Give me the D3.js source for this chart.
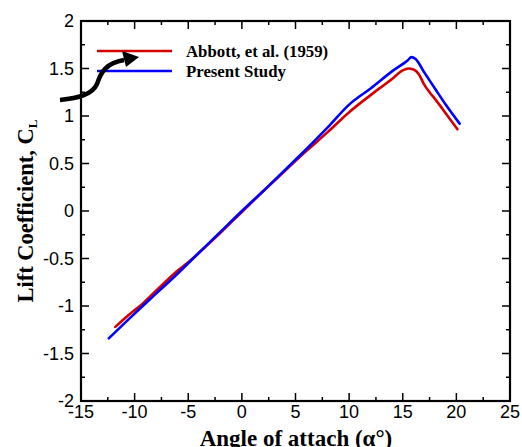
<!DOCTYPE html>
<html>
<head>
<meta charset="utf-8">
<script src="https://cdn.jsdelivr.net/npm/d3@7"></script>
<style>
  body { margin: 0; background: #fff; }
  svg { display: block; }
</style>
</head>
<body>
<script>
// values
const abbottAlpha = [-11.8, -10.5, -9.2, -8, -6, -5, -4, -2, 0, 2, 4, 6, 8, 10, 12, 14, 15, 15.5, 16, 16.5, 17, 17.5, 18, 19, 20.1]
const abbottCL    = [-1.22, -1.09, -0.97, -0.84, -0.63, -0.54, -0.44, -0.23, -0.01, 0.21, 0.42, 0.63, 0.83, 1.04, 1.22, 1.39, 1.48, 1.50, 1.49, 1.44, 1.33, 1.25, 1.18, 1.03, 0.86]
const presentAlpha = [-12.4, -10, -8, -6, -4, -2, 0, 2, 4, 6, 8, 10, 12, 14, 15.5, 15.8, 16.2, 17, 18, 19, 20.3]
const presentCL    = [-1.34, -1.08, -0.87, -0.66, -0.44, -0.22, 0.0, 0.21, 0.43, 0.65, 0.88, 1.12, 1.29, 1.47, 1.59, 1.62, 1.60, 1.46, 1.29, 1.12, 0.92]
const xTicks = [-15, -10, -5, 0, 5, 10, 15, 20, 25]
const yTicks = [-2, -1.5, -1, -0.5, 0, 0.5, 1, 1.5, 2]
const seriesNames = ["Abbott, et al. (1959)", "Present Study"]
const seriesColors = ["#d40000", "#0000ff"]

let w = 522, h = 447
let pLeft = 81, pRight = 510, pTop = 21, pBottom = 401

let svg = d3.select("body").append("svg")
    .attr("width", w)
    .attr("height", h)

let x = d3.scaleLinear([-15, 25], [pLeft, pRight])
let y = d3.scaleLinear([-2, 2], [pBottom, pTop])

// minor ticks every half step
let xMinor = d3.range(-15, 25.01, 2.5).filter(v => !xTicks.includes(v))
let yMinor = d3.range(-2, 2.01, 0.25).filter(v => !yTicks.includes(v))

let ticks = svg.append("g").attr("stroke", "#000").attr("stroke-width", 1.5)
function tickLines(vals, len, horiz) {
    vals.forEach(v => {
        if (horiz) {
            ticks.append("line").attr("x1", x(v)).attr("x2", x(v)).attr("y1", pBottom).attr("y2", pBottom - len)
            ticks.append("line").attr("x1", x(v)).attr("x2", x(v)).attr("y1", pTop).attr("y2", pTop + len)
        } else {
            ticks.append("line").attr("y1", y(v)).attr("y2", y(v)).attr("x1", pLeft).attr("x2", pLeft + len)
            ticks.append("line").attr("y1", y(v)).attr("y2", y(v)).attr("x1", pRight).attr("x2", pRight - len)
        }
    })
}
tickLines(xTicks, 8, true)
tickLines(xMinor, 4, true)
tickLines(yTicks, 8, false)
tickLines(yMinor, 4, false)

// tick labels
svg.append("g").selectAll("text")
    .data(xTicks)
    .enter()
    .append("text")
        .attr("x", d => x(d))
        .attr("y", 418)
        .attr("text-anchor", "middle")
        .style("font", "18px 'Liberation Sans', Arial, sans-serif")
        .text(d => d)

svg.append("g").selectAll("text")
    .data(yTicks)
    .enter()
    .append("text")
        .attr("x", 74)
        .attr("y", d => y(d))
        .attr("dy", "0.36em")
        .attr("text-anchor", "end")
        .style("font", "18px 'Liberation Sans', Arial, sans-serif")
        .text(d => d)

// data lines
let line = d3.line().x(d => x(d[0])).y(d => y(d[1])).curve(d3.curveMonotoneX)
let series = [
    d3.zip(abbottAlpha, abbottCL),
    d3.zip(presentAlpha, presentCL)
]
svg.append("g").selectAll("path")
    .data(series)
    .enter()
    .append("path")
        .attr("d", line)
        .attr("fill", "none")
        .attr("stroke", (d, i) => seriesColors[i])
        .attr("stroke-width", 2.6)
        .attr("stroke-linejoin", "round")
        .attr("stroke-linecap", "round")

// frame
svg.append("rect")
    .attr("x", pLeft).attr("y", pTop)
    .attr("width", pRight - pLeft).attr("height", pBottom - pTop)
    .attr("fill", "none")
    .attr("stroke", "#000")
    .attr("stroke-width", 2.2)

// legend
let legend = svg.append("g").selectAll("g")
    .data(seriesNames)
    .enter()
    .append("g")
        .attr("transform", (d, i) => "translate(0," + (51 + i * 20) + ")")
legend.append("line")
    .attr("x1", 97).attr("x2", 172)
    .attr("stroke", (d, i) => seriesColors[i])
    .attr("stroke-width", 2.6)
legend.append("text")
    .attr("x", 186)
    .attr("dy", "0.36em")
    .style("font", "bold 16.8px 'Liberation Serif', 'Times New Roman', serif")
    .text(d => d)

// curved arrow pointing at the legend
svg.append("path")
    .attr("d", "M60,100 C78,98 92,95 97,84 C101,72 106,63 124,60")
    .attr("fill", "none")
    .attr("stroke", "#000")
    .attr("stroke-width", 4.5)
svg.append("path")
    .attr("d", "M139,57 L122,51 L126,67 Z")
    .attr("fill", "#000")

// axis titles
svg.append("text")
    .attr("x", 296)
    .attr("y", 446)
    .attr("text-anchor", "middle")
    .style("font", "bold 23px 'Liberation Serif', 'Times New Roman', serif")
    .text("Angle of attach (α°)")

let yt = svg.append("text")
    .attr("transform", "translate(33,211) rotate(-90)")
    .attr("text-anchor", "middle")
    .style("font", "bold 22.5px 'Liberation Serif', 'Times New Roman', serif")
yt.append("tspan").text("Lift Coefficient, C")
yt.append("tspan").attr("dy", 4).style("font-size", "13px").text("L")
</script>
</body>
</html>
